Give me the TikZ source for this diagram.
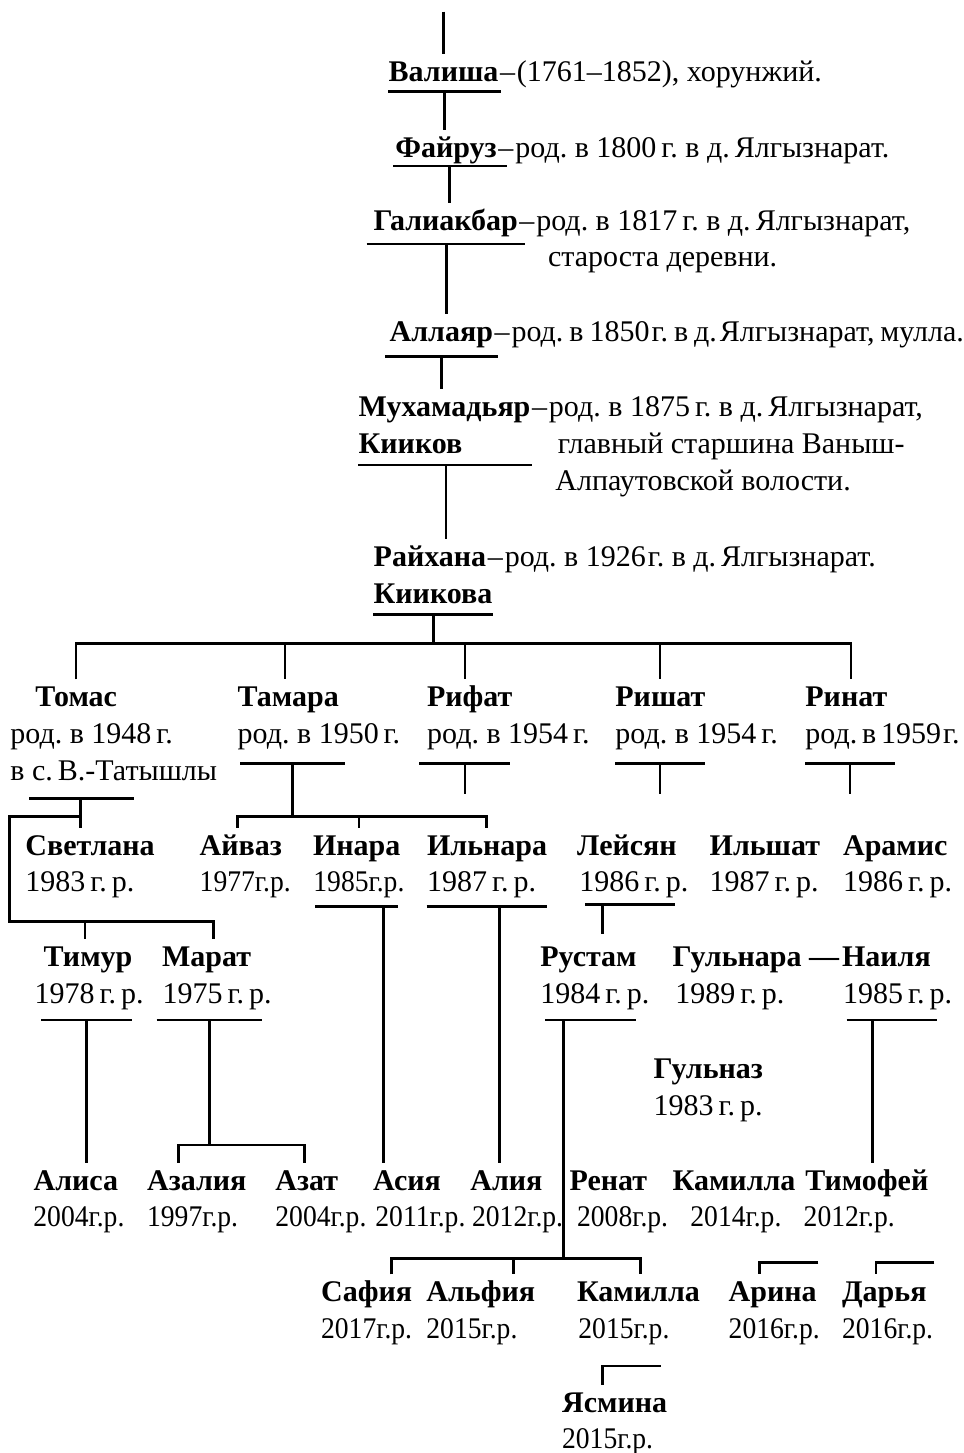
\documentclass[tikz,border=0pt]{standalone}
\usepackage{fontspec}
\setmainfont{Liberation Serif}
\usepackage{tikz}
\newcommand{\dsh}{\kern0.8pt–\kern1pt}

\begin{document}
\frenchspacing
\begin{tikzpicture}[x=0.5pt, y=-0.5pt]
\begin{scope}
	\tikzstyle{every node}=[anchor=base west, inner sep=0pt, font=\fontsize{15}{18}\selectfont]
	\tikzstyle{person}=[font=\fontsize{15}{18}\selectfont\bfseries, text height=13.5pt]
	\tikzstyle{chain}=[text height=13.5pt]
	\tikzstyle{yr}=[font=\fontsize{15}{18}\selectfont\addfontfeatures{FakeStretch=0.92}]
	\tikzstyle{rule}=[line width=1.3pt]
	\useasboundingbox (0,0) rectangle (964,1453);

	% main line
	\coordinate (root) at (443.3,11.7);
	\node[chain] (val) at (388.3,81.7) {\textbf{Валиша}\dsh(1761–1852), хорунжий.};
	\node[chain] (faj) at (395,157) {\textbf{Файруз}\dsh род. в 1800\,г. в д.\,Ялгызнарат.};
	\node[chain] (gal) at (373.3,230) {\textbf{Галиакбар}\dsh род. в 1817\,г. в д.\,Ялгызнарат,};
	\node (gal2) at (547.7,266.7) {староста деревни.};
	\node[chain] (all) at (389.3,341.7) {\spaceskip=0.2em\textbf{Аллаяр}\dsh род. в 1850\kern1pt г. в д.\kern1.5pt Ялгызнарат, мулла.};
	\node[chain] (muh) at (358.3,416.7) {\textbf{Мухамадьяр}\dsh род. в 1875\,г. в д.\,Ялгызнарат,};
	\node[person] (muh2) at (358.3,453.3) {Кииков};
	\node (muh3) at (557.4,453.3) {главный старшина Ваныш-};
	\node (muh4) at (555,490) {Алпаутовской волости.};
	\node[chain] (raj) at (373.3,566.7) {\textbf{Райхана}\dsh род. в 1926\kern1pt г. в д.\,Ялгызнарат.};
	\node[person] (raj2) at (373.3,603.3) {Киикова};

	\coordinate (valj) at (444.3,91.7);
	\coordinate (fajj) at (449.3,166);
	\coordinate (galj) at (446.7,244);
	\coordinate (allj) at (441.7,356.7);
	\coordinate (muhj) at (446,465);
	\coordinate (rajj) at (433.3,614.3);
	\coordinate (rajb) at (433.3,643.3);
	\draw [rule] (root) -- (root |- val.north);
	\draw [rule] (388.3,91.7) -- (501,91.7);
	\draw [rule] (valj) -- (valj |- faj.north);
	\draw [rule] (393,166) -- (506.7,166);
	\draw [rule] (fajj) -- (fajj |- gal.north);
	\draw [rule] (366.7,244) -- (525,244);
	\draw [rule] (galj) -- (galj |- all.north);
	\draw [rule] (385,356.7) -- (497.7,356.7);
	\draw [rule] (allj) -- (allj |- muh.north);
	\draw [rule] (358.3,465) -- (532.3,465);
	\draw [rule] (muhj) -- (muhj |- raj.north);
	\draw [rule] (373.3,614.3) -- (493.3,614.3);
	\draw [rule] (rajj) -- (rajb);

	% children
	\node[person] (tom) at (35,706.7) {Томас};
	\node (tom1) at (10,743.3) {род. в 1948\,г.};
	\node (tom2) at (10,780) {в с.\,В.-Татышлы};
	\node[person] (tam) at (237.3,706.7) {Тамара};
	\node (tam1) at (237.3,743.3) {род. в 1950\,г.};
	\node[person] (rif) at (426.7,706.7) {Рифат};
	\node (rif1) at (426.7,743.3) {род. в 1954\,г.};
	\node[person] (ris) at (615,706.7) {Ришат};
	\node (ris1) at (615,743.3) {род. в 1954\,г.};
	\node[person] (rin) at (805,706.7) {Ринат};
	\node (rin1) at (805,743.3) {\spaceskip=0.16em род. в 1959\kern1pt г.};

	\coordinate (b1) at (76,643.3);
	\coordinate (b2) at (285,643.3);
	\coordinate (b3) at (465,643.3);
	\coordinate (b4) at (660,643.3);
	\coordinate (b5) at (851,643.3);
	\draw [rule] (b1 |- tom.north) -- (b1) -- (b5) -- (b5 |- rin.north);
	\draw [rule] (b2) -- (b2 |- tam.north);
	\draw [rule] (b3) -- (b3 |- rif.north);
	\draw [rule] (b4) -- (b4 |- ris.north);

	% grandchildren
	\node[person] (svet) at (25,855) {Светлана};
	\node (svet1) at (25,891.7) {1983\,г.\,р.};
	\node[person] (ajv) at (199.3,855) {Айваз};
	\node[yr] (ajv1) at (199.3,891.7) {1977г.р.};
	\node[person] (ina) at (312.7,855) {Инара};
	\node[yr] (ina1) at (313,891.7) {1985г.р.};
	\node[person] (ilnr) at (426.7,855) {Ильнара};
	\node (ilnr1) at (426.7,891.7) {1987\,г.\,р.};
	\node[person] (lej) at (576.7,855) {Лейсян};
	\node (lej1) at (579,891.7) {1986\,г.\,р.};
	\node[person] (ilsh) at (709.3,855) {Ильшат};
	\node (ilsh1) at (709.3,891.7) {1987\,г.\,р.};
	\node[person] (ara) at (842.7,855) {Арамис};
	\node (ara1) at (842.7,891.7) {1986\,г.\,р.};

	\node[person] (tim) at (43.3,966.7) {Тимур};
	\node (tim1) at (34.3,1003.3) {1978\,г.\,р.};
	\node[person] (mar) at (161.7,966.7) {Марат};
	\node (mar1) at (162.3,1003.3) {1975\,г.\,р.};
	\node[person] (rus) at (540,966.7) {Рустам};
	\node (rus1) at (540,1003.3) {1984\,г.\,р.};
	\node[person] (gul) at (672.3,966.7) {Гульнара —};
	\node (gul1) at (675,1003.3) {1989\,г.\,р.};
	\node[person] (nai) at (841.7,966.7) {Наиля};
	\node (nai1) at (842.7,1003.3) {1985\,г.\,р.};
	\node[person] (gulz) at (653.3,1078.3) {Гульназ};
	\node (gulz1) at (653.3,1115) {1983\,г.\,р.};

	\draw [rule] (29,798.3) -- (134,798.3);
	\draw [rule] (240,763.3) -- (345,763.3);
	\draw [rule] (419.3,763.3) -- (510,763.3);
	\draw [rule] (615,763.3) -- (705,763.3);
	\draw [rule] (805,763.3) -- (895,763.3);

	\coordinate (tomj) at (80.7,798.3);
	\coordinate (tomk) at (80.7,816.7);
	\coordinate (tomb) at (9.3,921.7);
	\coordinate (c1) at (85,921.7);
	\coordinate (c2) at (213.3,921.7);
	\draw [rule] (tomj) -- (tomj |- svet.north);
	\draw [rule] (tomk) -| (tomb) -- (c2) -- (c2 |- mar.north);
	\draw [rule] (c1) -- (c1 |- tim.north);

	\coordinate (tamj) at (292.3,763.3);
	\coordinate (tamk) at (292.3,816.7);
	\coordinate (d1) at (237.7,816.7);
	\coordinate (d2) at (359,816.7);
	\coordinate (d3) at (486.7,816.7);
	\draw [rule] (tamj) -- (tamk);
	\draw [rule] (d1 |- ajv.north) -- (d1) -- (d3) -- (d3 |- ilnr.north);
	\draw [rule] (d2) -- (d2 |- ina.north);

	\coordinate (rifj) at (465,763.3);
	\coordinate (rife) at (465,794);
	\coordinate (risj) at (660,763.3);
	\coordinate (rise) at (660,794);
	\coordinate (rinj) at (850,763.3);
	\coordinate (rine) at (850,794);
	\draw [rule] (rifj) -- (rife);
	\draw [rule] (risj) -- (rise);
	\draw [rule] (rinj) -- (rine);

	% great-grandchildren
	\node[person] (ali) at (33.3,1190) {Алиса};
	\node[yr] (ali1) at (33,1226.7) {2004г.р.};
	\node[person] (aza) at (146.7,1190) {Азалия};
	\node[yr] (aza1) at (146.7,1226.7) {1997г.р.};
	\node[person] (azt) at (275,1190) {Азат};
	\node[yr] (azt1) at (275,1226.7) {2004г.р.};
	\node[person] (asi) at (372.7,1190) {Асия};
	\node[yr] (asi1) at (375,1226.7) {2011г.р.};
	\node[person] (aliya) at (470,1190) {Алия};
	\node[yr] (aliya1) at (471.7,1226.7) {2012г.р.};
	\node[person] (ren) at (569.3,1190) {Ренат};
	\node[yr] (ren1) at (576.7,1226.7) {2008г.р.};
	\node[person] (kam) at (672.3,1190) {Камилла};
	\node[yr] (kam1) at (690,1226.7) {2014г.р.};
	\node[person] (tif) at (805,1190) {Тимофей};
	\node[yr] (tif1) at (803.3,1226.7) {2012г.р.};

	\draw [rule] (315,906.7) -- (398.3,906.7);
	\draw [rule] (426.7,906.7) -- (546.7,906.7);
	\draw [rule] (585,904.3) -- (675,904.3);
	\coordinate (inaj) at (383.3,906.7);
	\coordinate (ilnj) at (499.3,906.7);
	\coordinate (lejj) at (602.7,904.3);
	\coordinate (leje) at (602.7,934);
	\draw [rule] (inaj) -- (inaj |- asi.north);
	\draw [rule] (ilnj) -- (ilnj |- aliya.north);
	\draw [rule] (lejj) -- (leje);

	\draw [rule] (41,1020) -- (131.7,1020);
	\draw [rule] (156.7,1020) -- (261.7,1020);
	\draw [rule] (545,1020) -- (635.7,1020);
	\draw [rule] (846.7,1020) -- (936.7,1020);
	\coordinate (timj) at (86.7,1020);
	\coordinate (marj) at (209.3,1020);
	\coordinate (mark) at (209.3,1145);
	\coordinate (e1) at (178.3,1145);
	\coordinate (e2) at (304.3,1145);
	\draw [rule] (timj) -- (timj |- ali.north);
	\draw [rule] (marj) -- (mark);
	\draw [rule] (e1 |- aza.north) -- (e1) -- (e2) -- (e2 |- azt.north);
	\coordinate (naij) at (872.3,1020);
	\draw [rule] (naij) -- (naij |- tif.north);

	% youngest
	\node[person] (saf) at (320.7,1301.7) {Сафия};
	\node[yr] (saf1) at (320.7,1338.3) {2017г.р.};
	\node[person] (alf) at (426,1301.7) {Альфия};
	\node[yr] (alf1) at (426,1338.3) {2015г.р.};
	\node[person] (kam2) at (576.7,1301.7) {Камилла};
	\node[yr] (kam21) at (578,1338.3) {2015г.р.};
	\node[person] (ari) at (728.3,1301.7) {Арина};
	\node[yr] (ari1) at (728.3,1338.3) {2016г.р.};
	\node[person] (dar) at (841.7,1301.7) {Дарья};
	\node[yr] (dar1) at (841.7,1338.3) {2016г.р.};
	\node[person] (yas) at (561.7,1412.7) {Ясмина};
	\node[yr] (yas1) at (561.7,1448.3) {2015г.р.};

	\coordinate (rusj) at (563.3,1020);
	\coordinate (rusk) at (563.3,1258.3);
	\coordinate (f1) at (391.7,1258.3);
	\coordinate (f2) at (513.3,1258.3);
	\coordinate (f3) at (640.7,1258.3);
	\draw [rule] (rusj) -- (rusk);
	\draw [rule] (f1 |- saf.north) -- (f1) -- (f3) -- (f3 |- kam2.north);
	\draw [rule] (f2) -- (f2 |- alf.north);

	\coordinate (arij) at (759.3,1262.3);
	\coordinate (arie) at (818.3,1262.3);
	\coordinate (darj) at (876,1262.3);
	\coordinate (dare) at (934.3,1262.3);
	\coordinate (yasj) at (602.7,1366);
	\coordinate (yase) at (660.7,1366);
	\draw [rule] (arie) -- (arij) -- (arij |- ari.north);
	\draw [rule] (dare) -- (darj) -- (darj |- dar.north);
	\draw [rule] (yase) -- (yasj) -- (yasj |- yas.north);
\end{scope}
\end{tikzpicture}
\end{document}
